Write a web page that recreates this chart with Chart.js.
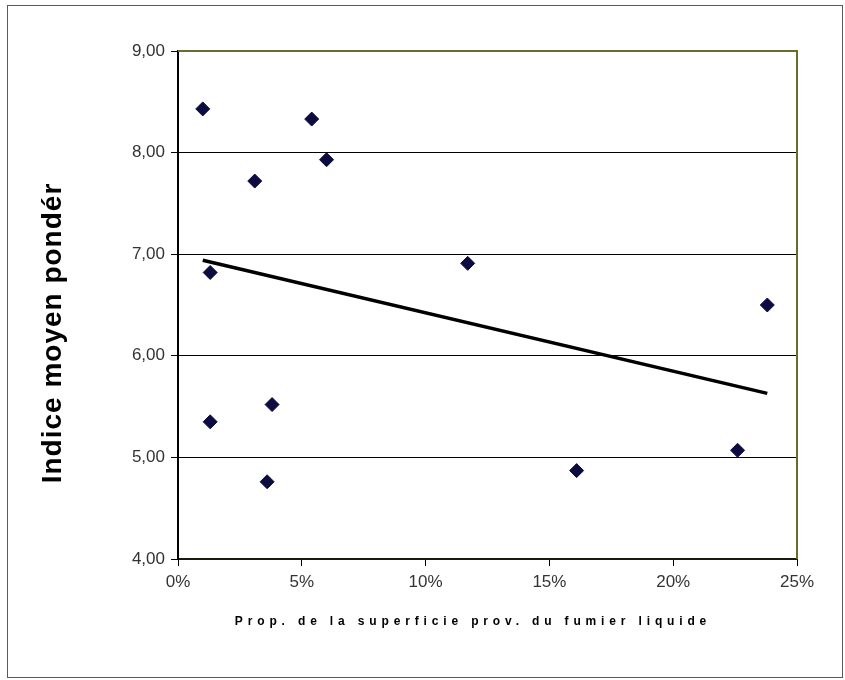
<!DOCTYPE html>
<html lang="fr">
<head>
<meta charset="UTF-8">
<title>Indice moyen pondéré</title>
<script src="https://cdn.jsdelivr.net/npm/chart.js"></script>
<style>
  html, body { margin: 0; padding: 0; background: #fff; }
  #box { width: 845px; height: 680px; }
</style>
</head>
<body>
<div id="box"><canvas id="scatter"></canvas></div>
<script>
// valeurs (x en %, y = indice)
var propFumier = [1.0, 5.4, 6.0, 3.1, 1.3, 11.7, 23.8, 16.1, 22.6, 1.3, 3.8, 3.6]
var indice     = [8.43, 8.33, 7.93, 7.72, 6.82, 6.91, 6.50, 4.87, 5.07, 5.35, 5.52, 4.76]
// droite de tendance (extrémités)
var trendX = [1.0, 23.8]
var trendY = [6.94, 5.63]
var yTicks = [4, 5, 6, 7, 8, 9]
var xTicks = [0, 5, 10, 15, 20, 25]

var yTitle = 'Indice moyen pondér'
var xTitle = 'Prop. de la superficie prov. du fumier liquide'

var points = propFumier.map(function (x, i) { return { x: x, y: indice[i] } })
var trend = trendX.map(function (x, i) { return { x: x, y: trendY[i] } })

// cadre, bords du graphique et titres des axes
const decor = {
  id: 'decor',
  afterDraw: function (chart) {
    const ctx = chart.ctx
    const a = chart.chartArea
    ctx.save()
    ctx.strokeStyle = '#5a5a5a'
    ctx.lineWidth = 1
    ctx.strokeRect(7.5, 5.5, 835, 672)

    ctx.strokeStyle = '#6b6b2b'
    ctx.lineWidth = 2
    ctx.beginPath()
    ctx.moveTo(a.left, a.top)
    ctx.lineTo(a.right, a.top)
    ctx.lineTo(a.right, a.bottom)
    ctx.stroke()

    ctx.fillStyle = '#000'
    ctx.font = 'bold 28px "Liberation Sans", Arial, sans-serif'
    ctx.letterSpacing = '1px'
    ctx.translate(53, 333)
    ctx.rotate(-Math.PI / 2)
    ctx.textAlign = 'center'
    ctx.textBaseline = 'middle'
    ctx.fillText(yTitle, 0, 0)
    ctx.restore()

    ctx.save()
    ctx.fillStyle = '#000'
    ctx.font = 'bold 12px "Liberation Sans", Arial, sans-serif'
    ctx.letterSpacing = '4.85px'
    ctx.textAlign = 'center'
    ctx.textBaseline = 'middle'
    ctx.fillText(xTitle, 473, 622)
    ctx.restore()
  }
}

const config = {
  type: 'scatter',
  data: {
    datasets: [{
      label: 'Indice',
      data: points,
      pointStyle: 'rectRot',
      pointRadius: 7,
      pointHoverRadius: 7,
      backgroundColor: '#0c0c40',
      borderColor: '#0c0c40',
      borderWidth: 1,
      order: 1
    }, {
      label: 'Tendance',
      type: 'line',
      data: trend,
      borderColor: '#000',
      borderWidth: 3.5,
      pointRadius: 0,
      fill: false,
      order: 2
    }]
  },
  options: {
    responsive: false,
    animation: false,
    layout: { padding: { top: 51, right: 48, left: 0, bottom: 0 } },
    plugins: { legend: { display: false }, tooltip: { enabled: false } },
    scales: {
      x: {
        type: 'linear',
        min: 0,
        max: 25,
        afterFit: function (s) { s.height = 121 },
        afterBuildTicks: function (s) { s.ticks = xTicks.map(function (v) { return { value: v } }) },
        grid: { drawOnChartArea: false, drawTicks: true, tickLength: 7, color: '#000', tickWidth: 1 },
        border: { color: '#1a1a0a', width: 2 },
        ticks: {
          padding: 6,
          color: '#333',
          font: { family: '"Liberation Sans", Arial, sans-serif', size: 17 },
          callback: function (v) { return v + '%' }
        }
      },
      y: {
        type: 'linear',
        min: 4,
        max: 9,
        afterFit: function (s) { s.width = 178 },
        afterBuildTicks: function (s) { s.ticks = yTicks.map(function (v) { return { value: v } }) },
        grid: { color: '#000', lineWidth: 1, drawTicks: true, tickLength: 7 },
        border: { color: '#000', width: 2 },
        ticks: {
          padding: 6,
          color: '#333',
          font: { family: '"Liberation Sans", Arial, sans-serif', size: 17 },
          callback: function (v) { return v.toFixed(2).replace('.', ',') }
        }
      }
    }
  },
  plugins: [decor]
}

var cv = document.getElementById('scatter')
cv.width = 845
cv.height = 680
const chart = new Chart(cv, config)
</script>
</body>
</html>
